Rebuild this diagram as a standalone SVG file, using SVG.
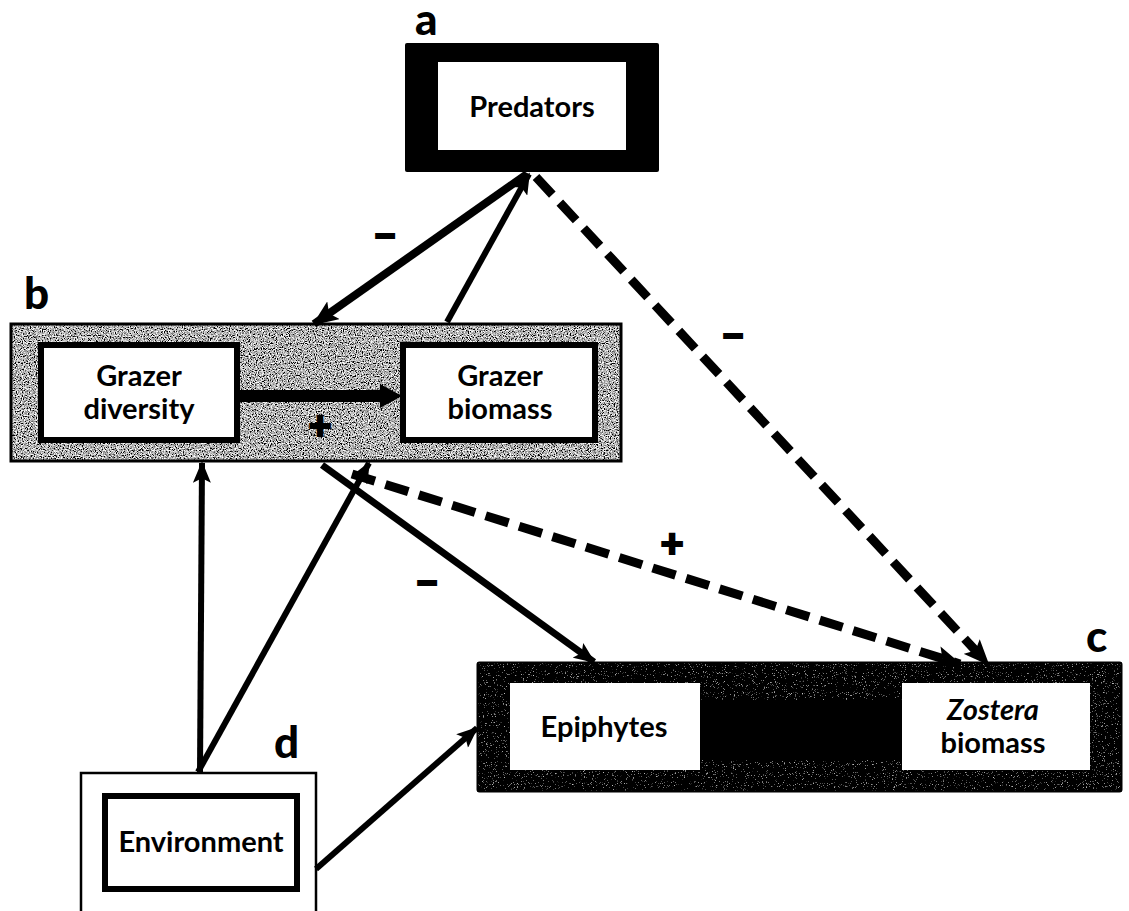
<svg xmlns="http://www.w3.org/2000/svg" width="1129" height="911" viewBox="0 0 1129 911">
  <style>
    .lbl { font-family: Lato, "Liberation Sans", sans-serif; font-weight: 900; font-size: 44px; fill: #000; }
    .txt { font-family: Lato, "Liberation Sans", sans-serif; font-weight: 700; font-size: 29px; fill: #000; text-anchor: middle; }
    .sign { font-family: Lato, "Liberation Sans", sans-serif; font-weight: 900; font-size: 40px; fill: #000; stroke: #000; stroke-width: 2; text-anchor: middle; }
    .solid { fill: none; stroke: #000; stroke-linecap: butt; }
    .dash { fill: none; stroke: #000; stroke-width: 9; stroke-dasharray: 24 11; }
    .frame { fill: none; stroke: #000; }
    .inner { fill: #fff; stroke: #000; stroke-width: 6; }
  </style>
  <defs>
    <marker id="head" viewBox="0 0 24 20" refX="22" refY="10" markerWidth="26" markerHeight="22" markerUnits="userSpaceOnUse" orient="auto">
      <path d="M0,0 L24,10 L0,20 L5,10 Z" fill="#000"/>
    </marker>
    <marker id="headSmall" viewBox="0 0 24 20" refX="22" refY="10" markerWidth="22" markerHeight="18" markerUnits="userSpaceOnUse" orient="auto">
      <path d="M0,0 L24,10 L0,20 L5,10 Z" fill="#000"/>
    </marker>
    <!-- grainy grey fill for the grazer group -->
    <filter id="grainGrey" x="0" y="0" width="1" height="1">
      <feTurbulence type="fractalNoise" baseFrequency="0.85" numOctaves="2" seed="4"/>
      <feColorMatrix type="saturate" values="0"/>
      <feComponentTransfer>
        <feFuncR type="linear" slope="3.6" intercept="-1.35"/>
        <feFuncG type="linear" slope="3.6" intercept="-1.35"/>
        <feFuncB type="linear" slope="3.6" intercept="-1.35"/>
        <feFuncA type="linear" slope="0" intercept="1"/>
      </feComponentTransfer>
      <feComposite operator="in" in2="SourceGraphic"/>
    </filter>
    <!-- mostly black grain for the plant group -->
    <filter id="grainDark" x="0" y="0" width="1" height="1">
      <feTurbulence type="fractalNoise" baseFrequency="0.9" numOctaves="2" seed="9"/>
      <feColorMatrix type="saturate" values="0"/>
      <feComponentTransfer>
        <feFuncR type="linear" slope="3" intercept="-1.85"/>
        <feFuncG type="linear" slope="3" intercept="-1.85"/>
        <feFuncB type="linear" slope="3" intercept="-1.85"/>
        <feFuncA type="linear" slope="0" intercept="1"/>
      </feComponentTransfer>
      <feComposite operator="in" in2="SourceGraphic"/>
    </filter>
  </defs>

  <rect width="1129" height="911" fill="#fff"/>

  <!-- a: predators -->
  <g id="predators">
    <text class="lbl" x="415" y="35">a</text>
    <rect x="405" y="43" width="254" height="129" rx="2" fill="#000"/>
    <rect x="438" y="62" width="188" height="88" fill="#fff"/>
    <text class="txt" x="532" y="117">Predators</text>
  </g>

  <!-- b: grazers -->
  <g id="grazers">
    <text class="lbl" x="24" y="309">b</text>
    <rect x="10" y="323" width="612" height="139" fill="#888" filter="url(#grainGrey)"/>
    <rect x="11" y="324" width="610" height="137" class="frame" stroke-width="3"/>
    <line x1="240" y1="396" x2="385" y2="396" stroke="#000" stroke-width="12"/>
    <path d="M380,384 L402,396 L380,408 Z" fill="#000"/>
    <text class="sign" x="320" y="439">+</text>
    <g id="grazer-diversity">
      <rect class="inner" x="41" y="345" width="196" height="95"/>
      <text class="txt" x="139" y="386">Grazer</text>
      <text class="txt" x="139" y="419">diversity</text>
    </g>
    <g id="grazer-biomass">
      <rect class="inner" x="403" y="345" width="192" height="95"/>
      <text class="txt" x="500" y="386">Grazer</text>
      <text class="txt" x="500" y="419">biomass</text>
    </g>
  </g>

  <!-- c: plants -->
  <g id="plants">
    <text class="lbl" x="1086" y="652">c</text>
    <rect x="477" y="662" width="645" height="130" rx="2" fill="#111" filter="url(#grainDark)"/>
    <rect x="477.5" y="662.5" width="644" height="129" rx="2" class="frame" stroke-width="2"/>
    <rect x="700" y="700" width="202" height="60" fill="#000"/>
    <g id="epiphytes">
      <rect x="510" y="683" width="190" height="87" fill="#fff"/>
      <text class="txt" x="604" y="737">Epiphytes</text>
    </g>
    <g id="zostera-biomass">
      <rect x="902" y="683" width="188" height="87" fill="#fff"/>
      <text class="txt" x="993" y="720"><tspan font-style="italic">Zostera</tspan></text>
      <text class="txt" x="993" y="753">biomass</text>
    </g>
  </g>

  <!-- d: environment -->
  <g id="environment">
    <text class="lbl" x="274" y="758">d</text>
    <path d="M81,911 V773 H316 V911" class="frame" stroke-width="2.5"/>
    <rect class="inner" x="105" y="796" width="192" height="93"/>
    <text class="txt" x="201" y="852">Environment</text>
  </g>

  <!-- connectors and signs -->
  <g id="connectors">
    <line class="solid" x1="527" y1="174" x2="314" y2="324" stroke-width="8" marker-end="url(#head)"/>
    <line class="solid" x1="447" y1="322" x2="529" y2="174" stroke-width="6" marker-end="url(#headSmall)"/>
    <line class="dash" x1="536" y1="177" x2="988" y2="664" marker-end="url(#head)"/>
    <line class="dash" x1="352" y1="474" x2="960" y2="664" marker-end="url(#head)"/>
    <line class="solid" x1="322" y1="465" x2="594" y2="662" stroke-width="7" marker-end="url(#headSmall)"/>
    <line class="solid" x1="200" y1="772" x2="202" y2="463" stroke-width="6" marker-end="url(#headSmall)"/>
    <line class="solid" x1="198" y1="772" x2="369" y2="463" stroke-width="6" marker-end="url(#headSmall)"/>
    <line class="solid" x1="316" y1="869" x2="477" y2="728" stroke-width="6" marker-end="url(#headSmall)"/>
    <text class="sign" x="385" y="249">−</text>
    <text class="sign" x="733" y="349">−</text>
    <text class="sign" x="672" y="557">+</text>
    <text class="sign" x="427" y="596">−</text>
  </g>
</svg>
